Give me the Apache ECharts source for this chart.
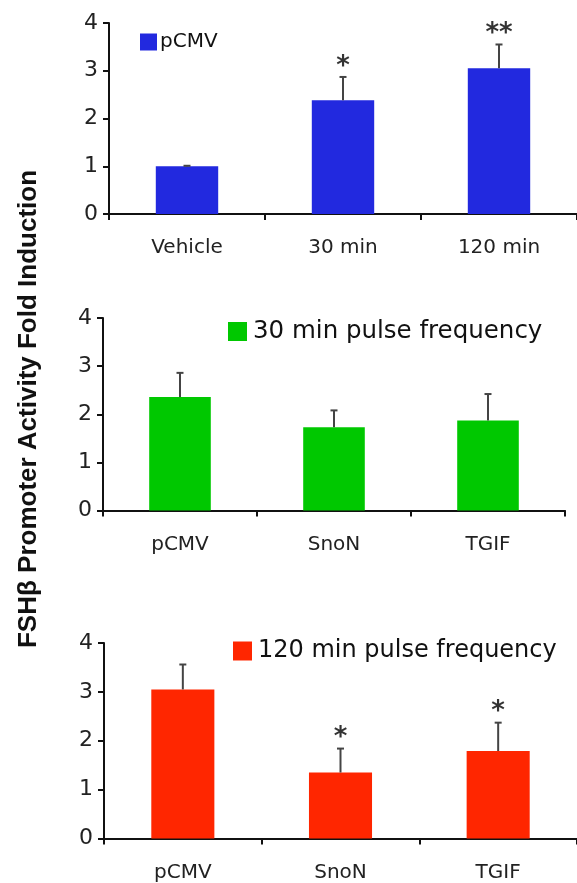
<!DOCTYPE html>
<html>
<head>
<meta charset="utf-8">
<script src="https://cdn.jsdelivr.net/npm/echarts@6/dist/echarts.min.js"></script>
<style>
  html, body { margin: 0; padding: 0; background: #fff; }
  #chart { width: 577px; height: 883px; }
</style>
</head>
<body>
<div id="chart"></div>
<script>
// panel 1
const cats1 = ['Vehicle', '30 min', '120 min']
const means1 = [1.0, 2.38, 3.05]
const errTop1 = [1.01, 2.87, 3.55]
const sig1 = ['', '*', '**']
const legend1 = 'pCMV'

// panel 2
const cats2 = ['pCMV', 'SnoN', 'TGIF']
const means2 = [2.36, 1.73, 1.87]
const errTop2 = [2.86, 2.08, 2.42]
const sig2 = ['', '', '']
const legend2 = '30 min pulse frequency'

// panel 3
const cats3 = ['pCMV', 'SnoN', 'TGIF']
const means3 = [3.05, 1.35, 1.79]
const errTop3 = [3.56, 1.84, 2.37]
const sig3 = ['', '*', '*']
const legend3 = '120 min pulse frequency'

const yTicks = [0, 1, 2, 3, 4]
const yTitle = 'FSHβ Promoter Activity Fold Induction'

const panels = [
  { cats : cats1, means : means1, err : errTop1, sig : sig1, name : legend1, color : '#2229df', legendSize : 20, textPad : -2, icon : 17,
    grid : { left : 109, top : 23, width : 472, height : 191 }, legend : { left : 140, top : 32 } },
  { cats : cats2, means : means2, err : errTop2, sig : sig2, name : legend2, color : '#00c800', legendSize : 24.5, textPad : 1, icon : 19,
    grid : { left : 103, top : 318, width : 462, height : 192.5 }, legend : { left : 228, top : 319 } },
  { cats : cats3, means : means3, err : errTop3, sig : sig3, name : legend3, color : '#ff2600', legendSize : 24, textPad : 1, icon : 19,
    grid : { left : 104, top : 643, width : 477, height : 195.5 }, legend : { left : 233, top : 639 } }
]

const font = 'DejaVu Sans, Verdana, sans-serif'
const chart = echarts.init( document.getElementById( 'chart' ) )

const grid = []
const xAxis = []
const yAxis = []
const series = []
const legend = []

panels.forEach( ( p, i ) => {
  grid.push( p.grid )
  xAxis.push( {
    type : 'category',
    gridIndex : i,
    data : p.cats,
    axisLine : { lineStyle : { color : '#111', width : 2 }},
    axisTick : { show : true, length : 6, lineStyle : { color : '#111', width : 2 }},
    axisLabel : { color : '#222', fontSize : 20, fontFamily : font, margin : 24 }
  } )
  yAxis.push( {
    type : 'value',
    gridIndex : i,
    min : yTicks[0],
    max : yTicks[yTicks.length - 1],
    interval : 1,
    splitLine : { show : false },
    axisLine : { show : true, lineStyle : { color : '#111', width : 2 }},
    axisTick : { show : true, length : 6, lineStyle : { color : '#111', width : 2 }},
    axisLabel : { color : '#222', fontSize : 22, fontFamily : font, margin : 11 }
  } )
  series.push( {
    name : p.name,
    type : 'bar',
    xAxisIndex : i,
    yAxisIndex : i,
    data : p.means,
    barWidth : '40%',
    itemStyle : { color : p.color },
    animation : false
  } )
  series.push( {
    type : 'custom',
    xAxisIndex : i,
    yAxisIndex : i,
    data : p.means.map( ( m, k ) => [k, m, p.err[k]] ),
    animation : false,
    z : 3,
    renderItem : ( params, api ) => {
      const base = api.coord( [api.value( 0 ), api.value( 1 )] )
      const top = api.coord( [api.value( 0 ), api.value( 2 )] )
      const style = { stroke : '#444', lineWidth : 2 }
      return {
        type : 'group',
        children : [
          { type : 'line', shape : { x1 : base[0], y1 : base[1], x2 : top[0], y2 : top[1] }, style },
          { type : 'line', shape : { x1 : top[0] - 3.5, y1 : top[1], x2 : top[0] + 3.5, y2 : top[1] }, style }
        ]
      }
    }
  } )
  series.push( {
    type : 'scatter',
    xAxisIndex : i,
    yAxisIndex : i,
    symbolSize : 0,
    animation : false,
    z : 5,
    data : p.err.map( ( e, k ) => ( { value : [k, e], label : { formatter : p.sig[k] || '' }} ) ),
    label : {
      show : true,
      position : 'top',
      distance : -3,
      color : '#000',
      fontSize : 26,
      fontWeight : 'bold',
      fontFamily : '"DejaVu Sans", sans-serif'
    }
  } )
  legend.push( {
    data : [{ name : p.name, icon : 'rect' }],
    left : p.legend.left,
    top : p.legend.top,
    padding : 0,
    itemWidth : p.icon,
    itemHeight : p.icon,
    itemGap : 0,
    selectedMode : false,
    textStyle : { fontSize : p.legendSize, color : '#111', fontFamily : font, padding : [0, 0, 0, p.textPad] }
  } )
} )

chart.setOption( {
  animation : false,
  grid,
  xAxis,
  yAxis,
  series,
  legend,
  graphic : [
    {
      type : 'text',
      x : 29,
      y : 409,
      rotation : Math.PI / 2,
      style : {
        text : yTitle,
        font : 'bold 26px "Liberation Sans", Arial, sans-serif',
        fill : '#111',
        textAlign : 'center',
        textVerticalAlign : 'middle'
      }
    }
  ]
} )
</script>
</body>
</html>
